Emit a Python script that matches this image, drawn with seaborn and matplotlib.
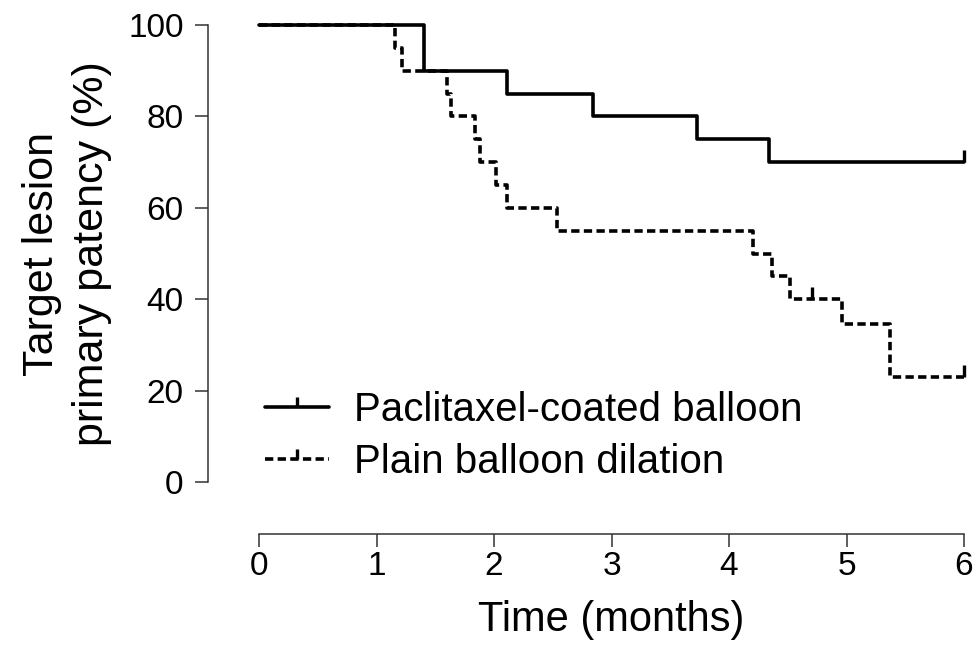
import matplotlib
matplotlib.use("Agg")
import matplotlib.pyplot as plt
from matplotlib.path import Path
from matplotlib.lines import Line2D
import seaborn as sns
import pandas as pd

# Kaplan-Meier step data (time in months, patency %)
pcb_time = [0, 1.40, 2.11, 2.84, 3.73, 4.34, 6.0]
pcb_surv = [100, 90, 85, 80, 75, 70, 70]
pcb_cens_time = [6.0]
pcb_cens_surv = [70]

pbd_time = [0, 1.16, 1.22, 1.60, 1.63, 1.84, 1.88, 2.02, 2.11, 2.54, 4.20, 4.37, 4.52, 4.96, 5.37, 6.0]
pbd_surv = [100, 95, 90, 85, 80, 75, 70, 65, 60, 55, 50, 45, 40, 34.5, 23, 23]
pbd_cens_time = [4.71, 6.0]
pbd_cens_surv = [40, 23]

labels = ["Paclitaxel-coated balloon", "Plain balloon dilation"]
x_ticks = [0, 1, 2, 3, 4, 5, 6]
y_ticks = [0, 20, 40, 60, 80, 100]

sns.set_theme(style="ticks")
plt.rcParams["font.family"] = ["Liberation Sans", "DejaVu Sans"]
plt.rcParams.update({"text.color": "black", "axes.labelcolor": "black",
                     "xtick.labelcolor": "black", "ytick.labelcolor": "black"})

fig = plt.figure(figsize=(9.8, 6.52), dpi=100)
ax = fig.add_axes([259 / 980, 1 - 482 / 652, 705 / 980, 457 / 652])

df_pcb = pd.DataFrame({"t": pcb_time, "s": pcb_surv})
df_pbd = pd.DataFrame({"t": pbd_time, "s": pbd_surv})

lw = 2.6
dash = (0, (2.3, 1.2))
sns.lineplot(data=df_pcb, x="t", y="s", ax=ax, estimator=None, color="black",
             linewidth=lw, drawstyle="steps-post", clip_on=False)
sns.lineplot(data=df_pbd, x="t", y="s", ax=ax, estimator=None, color="black",
             linewidth=lw, linestyle=dash, drawstyle="steps-post", clip_on=False)

tick_marker = Path([(0, 0), (0, 1)], [Path.MOVETO, Path.LINETO])
ax.plot(pcb_cens_time, pcb_cens_surv, linestyle="none", marker=tick_marker,
        markersize=18, markeredgewidth=2.4, color="black", clip_on=False)
ax.plot(pbd_cens_time, pbd_cens_surv, linestyle="none", marker=tick_marker,
        markersize=18, markeredgewidth=2.4, color="black", clip_on=False)

ax.set_xlim(0, 6)
ax.set_ylim(0, 100)
ax.set_xticks(x_ticks)
ax.set_yticks(y_ticks)
ax.tick_params(labelsize=24, length=9.5, width=1.1, color="#333333", pad=8)
ax.tick_params(axis="x", pad=3)

for side in ["top", "right"]:
    ax.spines[side].set_visible(False)
ax.spines["left"].set_position(("outward", 36.7))
ax.spines["bottom"].set_position(("outward", 37.5))
for side in ["left", "bottom"]:
    ax.spines[side].set_linewidth(1.1)
    ax.spines[side].set_color("#333333")

ax.set_xlabel("Time (months)", fontsize=30, labelpad=13)
ax.set_ylabel("Target lesion\nprimary patency (%)", fontsize=31, labelpad=12,
              linespacing=1.3)

handles = [
    Line2D([0], [0], color="black", linewidth=lw, marker=tick_marker,
           markersize=14, markeredgewidth=2.4),
    Line2D([0], [0], color="black", linewidth=lw, linestyle=dash,
           marker=tick_marker, markersize=14, markeredgewidth=2.4),
]
ax.legend(handles, labels, loc="upper left", bbox_to_anchor=(0.0085, 0.200),
          frameon=False, fontsize=29, handlelength=1.6, handletextpad=0.6,
          labelspacing=0.35, borderaxespad=0, borderpad=0)

fig.savefig("out.png", dpi=100)
